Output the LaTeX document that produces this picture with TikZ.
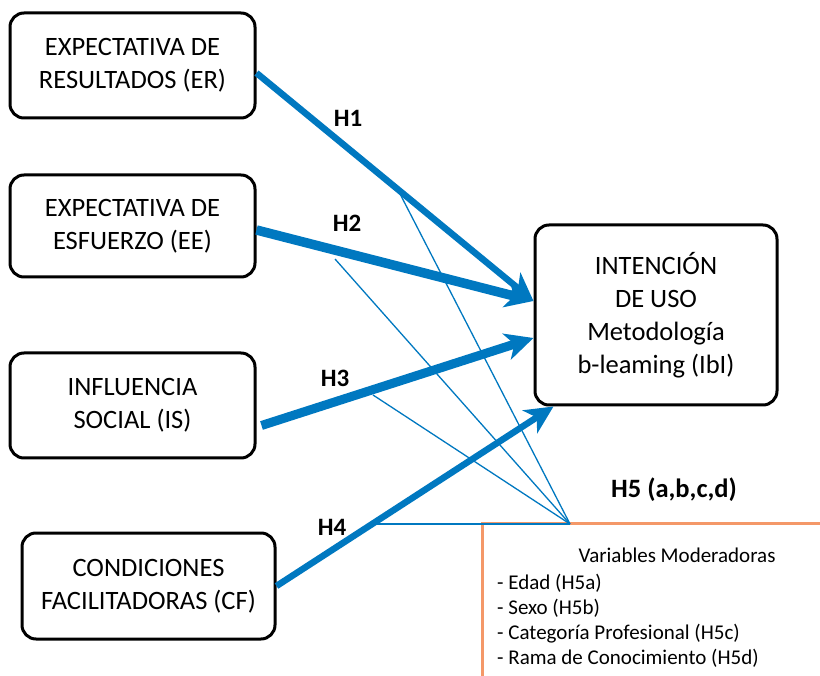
\documentclass[tikz,border=0pt]{standalone}
\usepackage{fontspec}
\setmainfont{Carlito}
\usetikzlibrary{arrows.meta}

\definecolor{hypblue}{RGB}{0,120,192}
\definecolor{modorange}{RGB}{244,152,104}

\tikzset{
  construct/.style={draw, line width=3pt, rounded corners=14pt, align=center,
    inner sep=0pt, font=\fontsize{26.5}{33}\selectfont},
  hyp/.style={hypblue, line width=6.5pt,
    -{Stealth[length=28pt,width=27pt,inset=8pt]}},
  fan/.style={hypblue, line width=1.3pt},
  hlabel/.style={font=\fontsize{25}{30}\selectfont\bfseries},
  modtext/.style={font=\fontsize{21}{25}\selectfont, inner sep=0pt},
}

\begin{document}
\begin{tikzpicture}[x=1pt,y=-1pt]
  \useasboundingbox (0,0) rectangle (820,676);

  \node (er) [construct, minimum width=245pt, minimum height=105pt] at (132.5,65.5)
    {EXPECTATIVA DE\\RESULTADOS (ER)};
  \node (ee) [construct, minimum width=245pt, minimum height=102pt] at (132.5,226)
    {EXPECTATIVA DE\\ESFUERZO (EE)};
  \node (is) [construct, minimum width=245pt, minimum height=105pt] at (132.5,405.5)
    {INFLUENCIA\\SOCIAL (IS)};
  \node (cf) [construct, minimum width=253pt, minimum height=106pt] at (148.5,586)
    {CONDICIONES\\FACILITADORAS (CF)};
  \node (ibi) [construct, minimum width=242pt, minimum height=180pt] at (656,315)
    {INTENCIÓN\\DE USO\\Metodología\\b-leaming (IbI)};

  % moderating variables
  \draw[modorange, line width=3pt] (482,676) |- (820,523);
  \node (h5) [hlabel, font=\fontsize{26.5}{30}\selectfont\bfseries] at (674,490) {H5 (a,b,c,d)};
  \node (modtitle) [modtext] at (677,555) {Variables Moderadoras};
  \foreach \txt [count=\i] in {Edad (H5a), Sexo (H5b), Categoría Profesional (H5c),
      Rama de Conocimiento (H5d)}
    \node (mod\i) [modtext, anchor=base west] at (497,564+25*\i) {- \txt};

  \coordinate (fan) at (570,524);
  \coordinate (t1) at (397,188);
  \coordinate (t2) at (335,259);
  \coordinate (t3) at (373,395);
  \coordinate (t4) at (369,524);
  \foreach \t in {t1,t2,t3,t4}
    \draw[fan] (fan) -- (\t);

  \path[hyp]
    ([yshift=-7.5pt]er.east) edge ([yshift=14pt]ibi.west)
    ([yshift=-4pt]ee.east) edge[line width=9.5pt] ([yshift=14pt]ibi.west)
    ([xshift=5pt,yshift=-20pt]is.east) edge[line width=9pt] ([yshift=-23pt]ibi.west)
    (cf.east) edge ([xshift=20pt]ibi.south west);

  \node (h1) [hlabel] at (348,118) {H1};
  \node (h2) [hlabel] at (347,223) {H2};
  \node (h3) [hlabel] at (335,378) {H3};
  \node (h4) [hlabel] at (332,527) {H4};
\end{tikzpicture}
\end{document}
